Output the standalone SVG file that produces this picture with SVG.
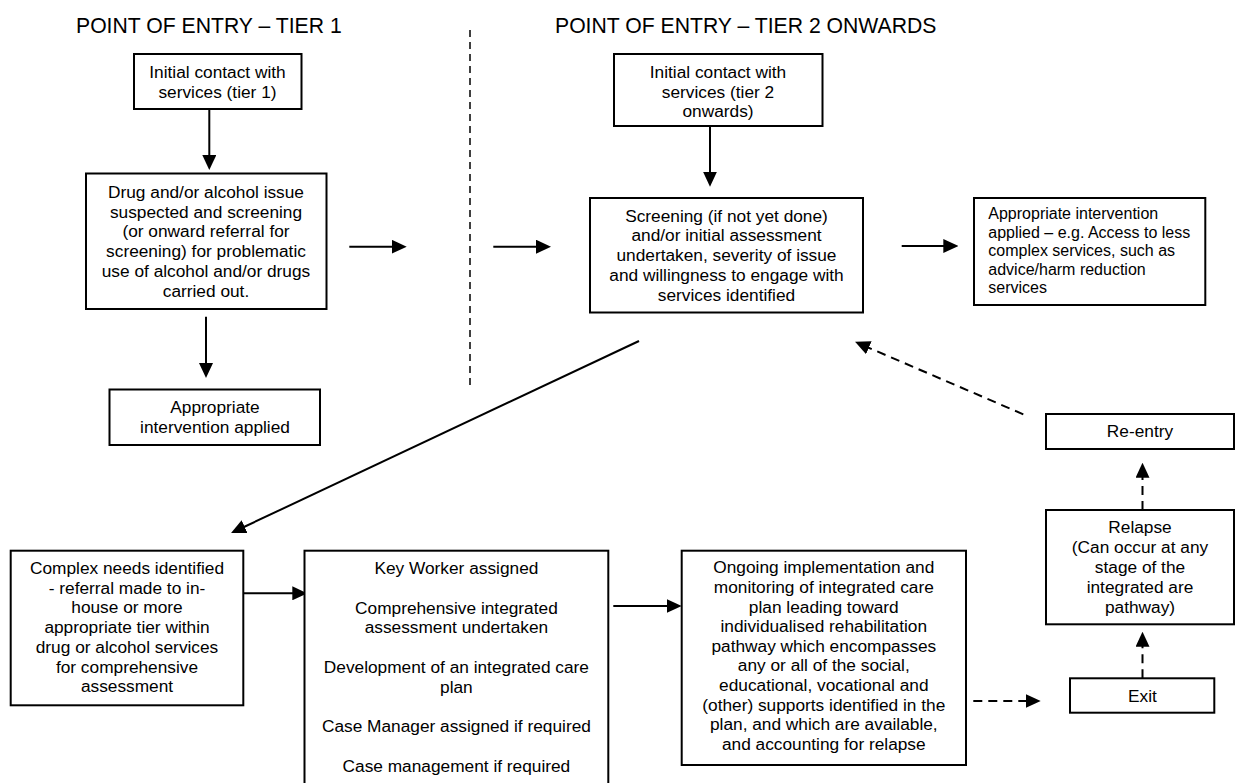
<svg xmlns="http://www.w3.org/2000/svg" width="1235" height="783" viewBox="0 0 1235 783">
<style>
.box{fill:#fff;stroke:#000;stroke-width:2}
.t{font-family:"Liberation Sans",Arial,sans-serif;font-size:17.3px;fill:#000;text-anchor:middle}
.ts{font-family:"Liberation Sans",Arial,sans-serif;font-size:16px;fill:#000}
.title{font-family:"Liberation Sans",Arial,sans-serif;font-size:21.2px;fill:#000}
.c{fill:none;stroke:#000;stroke-width:2}
.d{fill:none;stroke:#000;stroke-width:2;stroke-dasharray:9 6}
.div{fill:none;stroke:#000;stroke-width:1.5;stroke-dasharray:7 5}
</style>
<defs>
<marker id="ah" markerUnits="userSpaceOnUse" markerWidth="15" markerHeight="14" refX="2" refY="7" orient="auto">
<path d="M0,0 L15,7 L0,14 z" fill="#000"/>
</marker>
</defs>
<rect width="1235" height="783" fill="#fff"/>
<text class="title" x="76" y="32.5">POINT OF ENTRY – TIER 1</text>
<text class="title" x="555" y="32.5">POINT OF ENTRY – TIER 2 ONWARDS</text>
<line class="div" x1="470" y1="30" x2="470" y2="387"/>
<g id="connectors">
<line class="c" x1="209.3" y1="109" x2="209.3" y2="157" marker-end="url(#ah)"/>
<line class="c" x1="206" y1="316.7" x2="206" y2="365" marker-end="url(#ah)"/>
<line class="c" x1="710" y1="126" x2="710" y2="173.7" marker-end="url(#ah)"/>
<line class="c" x1="349.3" y1="246.7" x2="393.7" y2="246.7" marker-end="url(#ah)"/>
<line class="c" x1="493.3" y1="246.7" x2="538" y2="246.7" marker-end="url(#ah)"/>
<line class="c" x1="901.7" y1="246" x2="945.3" y2="246" marker-end="url(#ah)"/>
<line class="c" x1="639" y1="341" x2="242.8" y2="527.5" marker-end="url(#ah)"/>
<line class="c" x1="240.7" y1="593.3" x2="294.3" y2="593.3" marker-end="url(#ah)"/>
<line class="c" x1="613.3" y1="606" x2="668.7" y2="606" marker-end="url(#ah)"/>
<line class="d" x1="973.3" y1="701" x2="1027.7" y2="701" marker-end="url(#ah)"/>
<line class="d" x1="1142.5" y1="678.3" x2="1142.5" y2="644.7" marker-end="url(#ah)"/>
<line class="d" x1="1142.5" y1="510" x2="1142.5" y2="475.7" marker-end="url(#ah)"/>
<line class="d" x1="1023.3" y1="414.3" x2="867" y2="347" marker-end="url(#ah)"/>
</g>
<g id="n1">
<rect class="box" x="134" y="54" width="167.5" height="55"/>
<text class="t" x="217.5" y="78">Initial contact with</text>
<text class="t" x="217.5" y="98">services (tier 1)</text>
</g>
<g id="n2">
<rect class="box" x="86" y="173.5" width="240.5" height="135.5"/>
<text class="t" x="206" y="198">Drug and/or alcohol issue</text>
<text class="t" x="206" y="217.7">suspected and screening</text>
<text class="t" x="206" y="237.4">(or onward referral for</text>
<text class="t" x="206" y="257.1">screening) for problematic</text>
<text class="t" x="206" y="276.8">use of alcohol and/or drugs</text>
<text class="t" x="206" y="296.5">carried out.</text>
</g>
<g id="n3">
<rect class="box" x="109.5" y="389.5" width="210.5" height="55.5"/>
<text class="t" x="215" y="413">Appropriate</text>
<text class="t" x="215" y="433">intervention applied</text>
</g>
<g id="n4">
<rect class="box" x="614" y="54" width="208.5" height="72"/>
<text class="t" x="718" y="78">Initial contact with</text>
<text class="t" x="718" y="97.7">services (tier 2</text>
<text class="t" x="718" y="117.4">onwards)</text>
</g>
<g id="n5">
<rect class="box" x="590" y="198" width="273" height="114.5"/>
<text class="t" x="726.5" y="221.7">Screening (if not yet done)</text>
<text class="t" x="726.5" y="241.4">and/or initial assessment</text>
<text class="t" x="726.5" y="261.1">undertaken, severity of issue</text>
<text class="t" x="726.5" y="280.8">and willingness to engage with</text>
<text class="t" x="726.5" y="300.5">services identified</text>
</g>
<g id="n6">
<rect class="box" x="974" y="198" width="231.3" height="107"/>
<text class="ts" x="988.3" y="219.3">Appropriate intervention</text>
<text class="ts" x="988.3" y="237.8">applied – e.g. Access to less</text>
<text class="ts" x="988.3" y="256.3">complex services, such as</text>
<text class="ts" x="988.3" y="274.8">advice/harm reduction</text>
<text class="ts" x="988.3" y="293.3">services</text>
</g>
<g id="n7">
<rect class="box" x="1046" y="414" width="188" height="35"/>
<text class="t" x="1140" y="436.7">Re-entry</text>
</g>
<g id="n8">
<rect class="box" x="10.7" y="550.7" width="232.6" height="154.6"/>
<text class="t" x="127" y="574">Complex needs identified</text>
<text class="t" x="127" y="593.7">- referral made to in-</text>
<text class="t" x="127" y="613.4">house or more</text>
<text class="t" x="127" y="633.1">appropriate tier within</text>
<text class="t" x="127" y="652.8">drug or alcohol services</text>
<text class="t" x="127" y="672.5">for comprehensive</text>
<text class="t" x="127" y="692.2">assessment</text>
</g>
<g id="n9">
<rect class="box" x="304.5" y="550.7" width="303.8" height="250"/>
<text class="t" x="456.4" y="574">Key Worker assigned</text>
<text class="t" x="456.4" y="613.6">Comprehensive integrated</text>
<text class="t" x="456.4" y="633.4">assessment undertaken</text>
<text class="t" x="456.4" y="673">Development of an integrated care</text>
<text class="t" x="456.4" y="692.8">plan</text>
<text class="t" x="456.4" y="732.4">Case Manager assigned if required</text>
<text class="t" x="456.4" y="772">Case management if required</text>
</g>
<g id="n10">
<rect class="box" x="681.7" y="550.7" width="284.3" height="214.3"/>
<text class="t" x="823.8" y="573.3">Ongoing implementation and</text>
<text class="t" x="823.8" y="592.9">monitoring of integrated care</text>
<text class="t" x="823.8" y="612.5">plan leading toward</text>
<text class="t" x="823.8" y="632.1">individualised rehabilitation</text>
<text class="t" x="823.8" y="651.7">pathway which encompasses</text>
<text class="t" x="823.8" y="671.3">any or all of the social,</text>
<text class="t" x="823.8" y="690.9">educational, vocational and</text>
<text class="t" x="823.8" y="710.5">(other) supports identified in the</text>
<text class="t" x="823.8" y="730.1">plan, and which are available,</text>
<text class="t" x="823.8" y="749.7">and accounting for relapse</text>
</g>
<g id="n11">
<rect class="box" x="1046" y="510" width="188" height="114.3"/>
<text class="t" x="1140" y="533.3">Relapse</text>
<text class="t" x="1140" y="553.1">(Can occur at any</text>
<text class="t" x="1140" y="572.9">stage of the</text>
<text class="t" x="1140" y="592.7">integrated are</text>
<text class="t" x="1140" y="612.5">pathway)</text>
</g>
<g id="n12">
<rect class="box" x="1070" y="678.3" width="144.3" height="34.4"/>
<text class="t" x="1142.5" y="701.7">Exit</text>
</g>
</svg>
